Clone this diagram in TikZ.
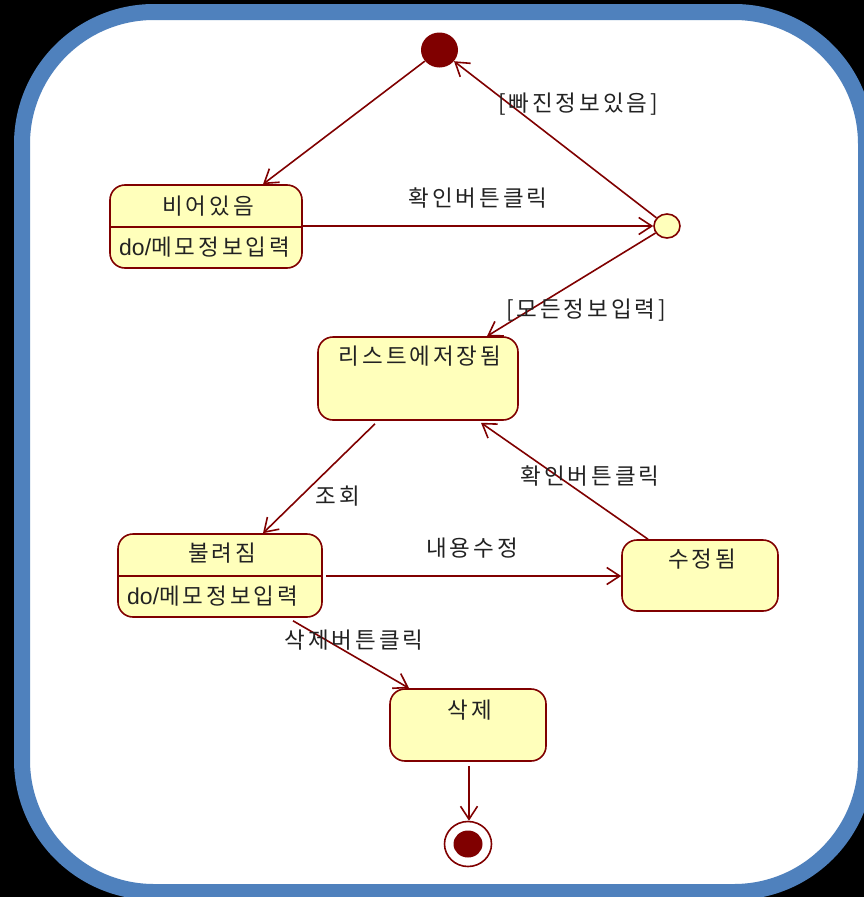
\documentclass[tikz,border=0pt]{standalone}
\usepackage{fontspec}
\setmainfont{Noto Sans CJK KR}
\newfontfamily\kor[LetterSpace=13]{Noto Sans CJK KR}
\newfontfamily\lat{Liberation Sans}
\usetikzlibrary{arrows.meta,calc,shapes.geometric}
\definecolor{dred}{HTML}{800000}
\definecolor{syell}{HTML}{FFFFBB}
\definecolor{oblue}{HTML}{4F81BD}
\definecolor{txt}{HTML}{222222}
\newcommand{\dotxt}{{\lat\fontsize{23}{24}\selectfont do/}}
\begin{document}
\begin{tikzpicture}[x=1pt,y=-1pt,
  state/.style={draw=dred,fill=syell,line width=1.6pt,rounded corners=15pt,inner sep=0pt,rectangle},
  lbl/.style={font=\kor\fontsize{22.5}{24}\selectfont,text=txt,inner sep=0pt},
  tr/.style={draw=dred,line width=1.6pt,-{Straight Barb[length=13pt,width=17pt,line width=1.6pt]}}]
\useasboundingbox (0,0) rectangle (864,897);
\fill[black] (0,0) rectangle (864,897);
\draw[oblue,line width=16pt,fill=white,rounded corners=132pt] (22,12) rectangle (866,892);
% states
\node[state,minimum width=192pt,minimum height=83pt] (empty) at (206,226.5) {};
\draw[dred,line width=1.6pt] (empty.west |- 0,227) -- (empty.east |- 0,227);
\node[lbl] (emptyT) at (208,206) {비어있음};
\node[lbl,anchor=west] (emptyD) at (119,247) {\dotxt 메모정보입력};
\node[state,minimum width=200pt,minimum height=83pt] (list) at (418,378.5) {};
\node[lbl] (listT) at (420,356) {리스트에저장됨};
\node[state,minimum width=204pt,minimum height=83pt] (loaded) at (220,575.5) {};
\draw[dred,line width=1.6pt] (loaded.west |- 0,576) -- (loaded.east |- 0,576);
\node[lbl] (loadedT) at (222,553) {불려짐};
\node[lbl,anchor=west] (loadedD) at (127,596) {\dotxt 메모정보입력};
\node[state,minimum width=156pt,minimum height=71pt] (mod) at (700,575.5) {};
\node[lbl] (modT) at (702,559) {수정됨};
\node[state,minimum width=156pt,minimum height=72pt] (del) at (468,725) {};
\node[lbl] (delT) at (470,710) {삭제};
% pseudo states
\node[ellipse,fill=dred,minimum width=37pt,minimum height=35pt,inner sep=0pt] (init) at (439.5,50) {};
\node[ellipse,draw=dred,fill=syell,line width=1.6pt,minimum width=26pt,minimum height=24pt,inner sep=0pt] (junc) at (667,226) {};
\node[ellipse,draw=dred,fill=white,line width=1.6pt,minimum width=47pt,minimum height=45pt,inner sep=0pt] (final) at (468,844) {};
\node[ellipse,fill=dred,minimum width=29pt,minimum height=27pt,inner sep=0pt] (finalIn) at (468,844) {};
% transitions
\draw[tr] (init) -- ($(empty.north)+(57,0)$);
\draw[tr] ($(empty.east)+(0,-0.5)$) -- (junc.west);
\node[lbl] (l1) at (478,198) {확인버튼클릭};
\draw[tr] (junc) -- (init);
\node[lbl] (l2) at (578,104) {[빠진정보있음]};
\draw[tr] (junc) -- ($(list.north)+(69,0)$);
\node[lbl] (l3) at (586,310) {[모든정보입력]};
\draw[tr] ($(list.south)+(-43,3)$) -- ($(loaded.north)+(43,0)$);
\node[lbl] (l4) at (338,496) {조회};
\draw[tr] ($(mod.north)+(-52,0)$) -- ($(list.south)+(63,2)$);
\node[lbl] (l5) at (590,476) {확인버튼클릭};
\draw[tr] ($(loaded.east)+(3,0.5)$) -- ($(mod.west)+(0,0.5)$);
\node[lbl] (l6) at (472,548) {내용수정};
\draw[tr] ($(loaded.south)+(73,3)$) -- ($(del.north)+(-59,0)$);
\node[lbl] (l7) at (354,640) {삭제버튼클릭};
\draw[tr] ($(del.south)+(1,4)$) -- ($(final.north)+(1,0)$);
\end{tikzpicture}
\end{document}
